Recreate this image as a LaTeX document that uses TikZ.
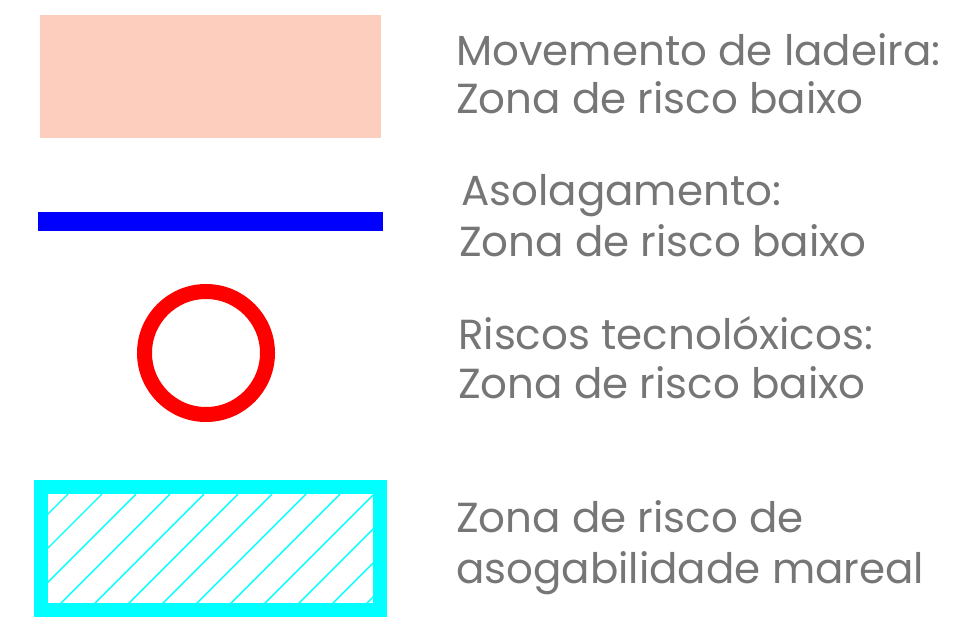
\documentclass[tikz,border=0pt]{standalone}
\usepackage{fontspec}
\setmainfont{Poppins}
\definecolor{ladeira}{RGB}{253,205,190}
\definecolor{textgray}{RGB}{118,118,118}
\definecolor{mareal}{RGB}{0,255,255}
\definecolor{asolag}{RGB}{0,0,255}
\definecolor{tecno}{RGB}{255,0,0}
\tikzset{
  legtext/.style={anchor=base west, inner sep=0pt, text=textgray, font=\fontsize{42}{46}\selectfont},
  hatchline/.style={mareal, line width=1.4pt}
}
\begin{document}
\begin{tikzpicture}[x=1pt, y=-1pt]
  \useasboundingbox (0,0) rectangle (968,621);
  % simbolos
  \fill[ladeira] (40,15) rectangle (381,138);
  \fill[asolag] (38,212) rectangle (383,231);
  \draw[tecno, line width=15pt] (206,353) circle (61.5);
  \begin{scope}
    \clip (48,494) rectangle (373,602);
    \foreach \x in {34,68,...,476}
      \draw[hatchline] (\x,494) -- ++(-120,120);
  \end{scope}
  \draw[mareal, line width=14pt] (41,486.5) rectangle (380,609.5);
  % textos
  \node[legtext] (la1) at (456,65) {Movemento de ladeira:};
  \node[legtext] (la2) at (456,113) {Zona de risco baixo};
  \node[legtext] (as1) at (461,205) {Asolagamento:};
  \node[legtext] (as2) at (459,256) {Zona de risco baixo};
  \node[legtext] (rt1) at (458,349) {Riscos tecnolóxicos:};
  \node[legtext] (rt2) at (458,398) {Zona de risco baixo};
  \node[legtext] (am1) at (456,532) {Zona de risco de};
  \node[legtext] (am2) at (456,583) {asogabilidade mareal};
\end{tikzpicture}
\end{document}
